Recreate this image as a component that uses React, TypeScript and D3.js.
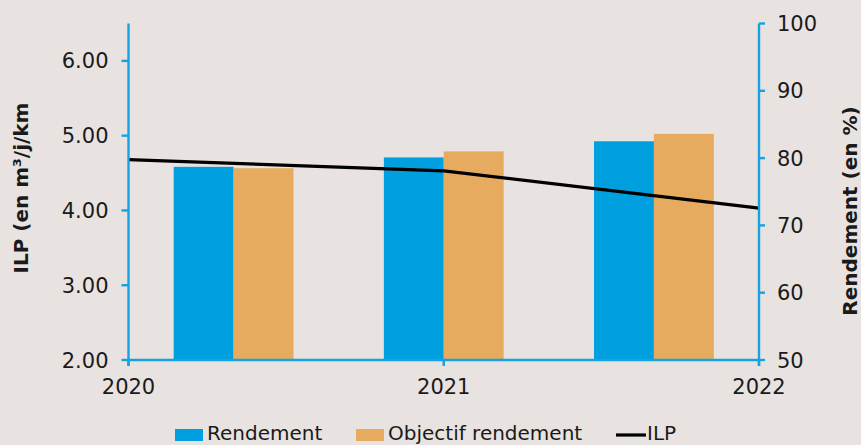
import React from "react";
import * as d3 from "d3";

// Years on the horizontal axis
const years = [2020, 2021, 2022];
const yearLabels = ["2020", "2021", "2022"];

// Rendement (%) per year, right axis
const rendement = [78.7, 80.1, 82.5];
// Objectif rendement (%) per year, right axis
const objectif = [78.5, 81.0, 83.6];
// ILP (m³/j/km) per year, left axis
const ilp = [4.68, 4.53, 4.03];

const leftTicks = [2, 3, 4, 5, 6];
const rightTicks = [50, 60, 70, 80, 90, 100];

const seriesNames = ["Rendement", "Objectif rendement"];

const W = 861;
const H = 445;
const BG = "#e8e3e0";
const BLUE = "#009fdf";
const ORANGE = "#e6ab5f";
const AXIS = "#14a2e2";
const FONT = "'DejaVu Sans', sans-serif";

export default function App() {
  const x0 = 128.5;
  const x1 = 759;
  const yTop = 23.5;
  const yBottom = 360;

  const yLeft = d3.scaleLinear().domain([2, 6.5]).range([yBottom, yTop]);
  const yRight = d3.scaleLinear().domain([50, 100]).range([yBottom, yTop]);
  const xYear = d3.scaleLinear().domain([2020, 2022]).range([x0, x1]);

  const p = 0.43;
  const xBand = d3
    .scaleBand<string>()
    .domain(yearLabels)
    .range([x0, x1])
    .paddingInner(p)
    .paddingOuter(p / 2);
  const xSub = d3
    .scaleBand<string>()
    .domain(seriesNames)
    .range([0, xBand.bandwidth()]);

  const line = d3
    .line<number>()
    .x((_, i) => xYear(years[i]))
    .y((d) => yLeft(d));

  const barData = yearLabels.flatMap((yr, i) => [
    { yr, s: seriesNames[0], v: rendement[i], c: BLUE },
    { yr, s: seriesNames[1], v: objectif[i], c: ORANGE },
  ]);

  return (
    <div style={{ position: "absolute", left: 0, top: 0 }}>
      <svg width={W} height={H} style={{ display: "block", background: BG }} fontFamily={FONT}>
        <rect x={0} y={0} width={W} height={H} fill={BG} />

        {/* bars */}
        {barData.map((d, k) => (
          <rect
            key={k}
            x={(xBand(d.yr) ?? 0) + (xSub(d.s) ?? 0)}
            y={yRight(d.v)}
            width={xSub.bandwidth()}
            height={yBottom - yRight(d.v)}
            fill={d.c}
          />
        ))}

        {/* ILP line */}
        <path d={line(ilp) ?? ""} fill="none" stroke="#000" strokeWidth={3.2} />

        {/* left axis */}
        <line x1={x0} x2={x0} y1={yTop} y2={yBottom + 6} stroke={AXIS} strokeWidth={2.4} />
        {leftTicks.map((t) => (
          <g key={t} transform={`translate(0,${yLeft(t)})`}>
            <line x1={x0 - 7} x2={x0} stroke={AXIS} strokeWidth={2.4} />
            <text x={x0 - 20} dy="0.36em" textAnchor="end" fontSize={21} fill="#1a1a1a">
              {t.toFixed(2)}
            </text>
          </g>
        ))}

        {/* right axis */}
        <line x1={x1} x2={x1} y1={yTop} y2={yBottom + 6} stroke={AXIS} strokeWidth={2.4} />
        {rightTicks.map((t) => (
          <g key={t} transform={`translate(0,${yRight(t)})`}>
            <line x1={x1} x2={x1 + 6} stroke={AXIS} strokeWidth={2.4} />
            <text x={x1 + 18} dy="0.36em" textAnchor="start" fontSize={21} fill="#1a1a1a">
              {t}
            </text>
          </g>
        ))}

        {/* bottom axis */}
        <line x1={x0} x2={x1} y1={yBottom} y2={yBottom} stroke={AXIS} strokeWidth={2.4} />
        {years.map((yv, i) => (
          <g key={yv} transform={`translate(${xYear(yv)},0)`}>
            <line y1={yBottom} y2={yBottom + 6} stroke={AXIS} strokeWidth={2.4} />
            <text y={394} textAnchor="middle" fontSize={21} fill="#1a1a1a">
              {yearLabels[i]}
            </text>
          </g>
        ))}

        {/* axis titles */}
        <text
          transform={`translate(28,188) rotate(-90)`}
          textAnchor="middle"
          fontSize={20}
          fontWeight="bold"
          fill="#1a1a1a"
        >
          ILP (en m³/j/km
        </text>
        <text
          transform={`translate(857,211) rotate(-90)`}
          textAnchor="middle"
          fontSize={20}
          fontWeight="bold"
          fill="#1a1a1a"
        >
          Rendement (en %)
        </text>

        {/* legend */}
        <g fontSize={20} fill="#1a1a1a">
          <rect x={175} y={429} width={28} height={12} fill={BLUE} />
          <text x={207} y={440}>Rendement</text>
          <rect x={356} y={429} width={28} height={12} fill={ORANGE} />
          <text x={388} y={440}>Objectif rendement</text>
          <line x1={616} x2={646} y1={435} y2={435} stroke="#000" strokeWidth={3.2} />
          <text x={647} y={440}>ILP</text>
        </g>
      </svg>
    </div>
  );
}
